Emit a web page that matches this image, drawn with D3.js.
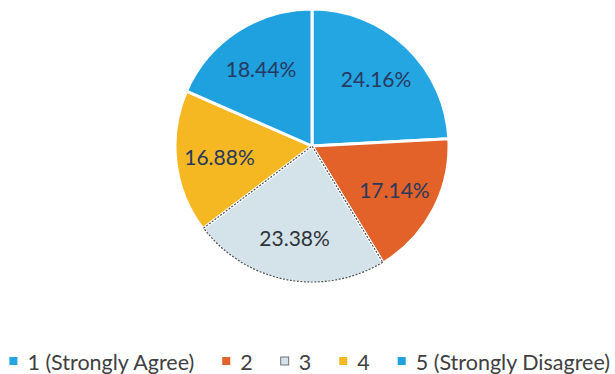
<!DOCTYPE html>
<html>
<head>
<meta charset="utf-8">
<script src="https://cdn.jsdelivr.net/npm/d3@7/dist/d3.min.js"></script>
<style>
  html, body { margin: 0; padding: 0; background: #fff; }
  svg { display: block; }
</style>
</head>
<body>
<svg id="chart" width="615" height="374"></svg>
<script>
// Survey response shares
const categories = ["1 (Strongly Agree)", "2", "3", "4", "5 (Strongly Disagree)"];
const shares = [24.16, 17.14, 23.38, 16.88, 18.44];
const sliceLabels = ["24.16%", "17.14%", "23.38%", "16.88%", "18.44%"];
const palette = ["#23a6e2", "#e2622a", "#d4e3ea", "#f5b823", "#1fa0df"];

const svg = d3.select("#chart");
const W = 615, H = 374;
const cx = 312, cy = 146, R = 137;

const data = categories.map((c, i) => ({ cat: c, value: shares[i], label: sliceLabels[i], color: palette[i] }));

const pie = d3.pie().value(d => d.value).sort(null);
const arcs = pie(data);
const arc = d3.arc().innerRadius(0).outerRadius(R);
const labelArc = d3.arc().innerRadius(R * 0.68).outerRadius(R * 0.68);

const g = svg.append("g").attr("transform", `translate(${cx},${cy})`);

g.selectAll("path.slice")
  .data(arcs)
  .join("path")
  .attr("class", "slice")
  .attr("d", arc)
  .attr("fill", d => d.data.color)
  .attr("stroke", "#fff")
  .attr("stroke-width", 3)
  .attr("stroke-linejoin", "round");

// dotted rim on the pale third slice
const rimArc = d3.arc().innerRadius(0).outerRadius(R - 1);
g.selectAll("path.rim")
  .data(arcs.filter(d => d.index === 2))
  .join("path")
  .attr("class", "rim")
  .attr("d", rimArc)
  .attr("fill", "none")
  .attr("stroke", "#4a4f55")
  .attr("stroke-width", 1.2)
  .attr("stroke-dasharray", "2,1.5");

g.selectAll("text.val")
  .data(arcs)
  .join("text")
  .attr("class", "val")
  .attr("transform", d => `translate(${labelArc.centroid(d)})`)
  .attr("text-anchor", "middle")
  .attr("dominant-baseline", "central")
  .attr("font-family", "Lato, 'Open Sans', sans-serif")
  .attr("font-size", 21)
  .attr("fill", d => d.index === 2 ? "#2f3338" : "#28395e")
  .text(d => d.data.label);

// Legend along the bottom
const legend = svg.append("g").attr("transform", `translate(0,370)`);
const items = legend.selectAll("g.item")
  .data(data)
  .join("g")
  .attr("class", "item");

items.append("rect")
  .attr("width", 8).attr("height", 8)
  .attr("y", -13)
  .attr("fill", d => d.color)
  .attr("stroke", (d, i) => i === 2 ? "#555" : "none")
  .attr("stroke-width", 0.8);

items.append("text")
  .attr("x", 18)
  .attr("font-family", "Lato, 'Open Sans', sans-serif")
  .attr("font-size", 21.5)
  .attr("fill", "#404040")
  .text(d => d.cat);

// lay the items out left to right with even gaps, ending near the right edge
const gap = 28;
const widths = [];
items.each(function () { widths.push(18 + this.querySelector("text").getComputedTextLength()); });
const total = d3.sum(widths) + gap * (widths.length - 1);
let x = W - 5 - total;
items.attr("transform", (d, i) => {
  const t = `translate(${x},0)`;
  x += widths[i] + gap;
  return t;
});
</script>
</body>
</html>
